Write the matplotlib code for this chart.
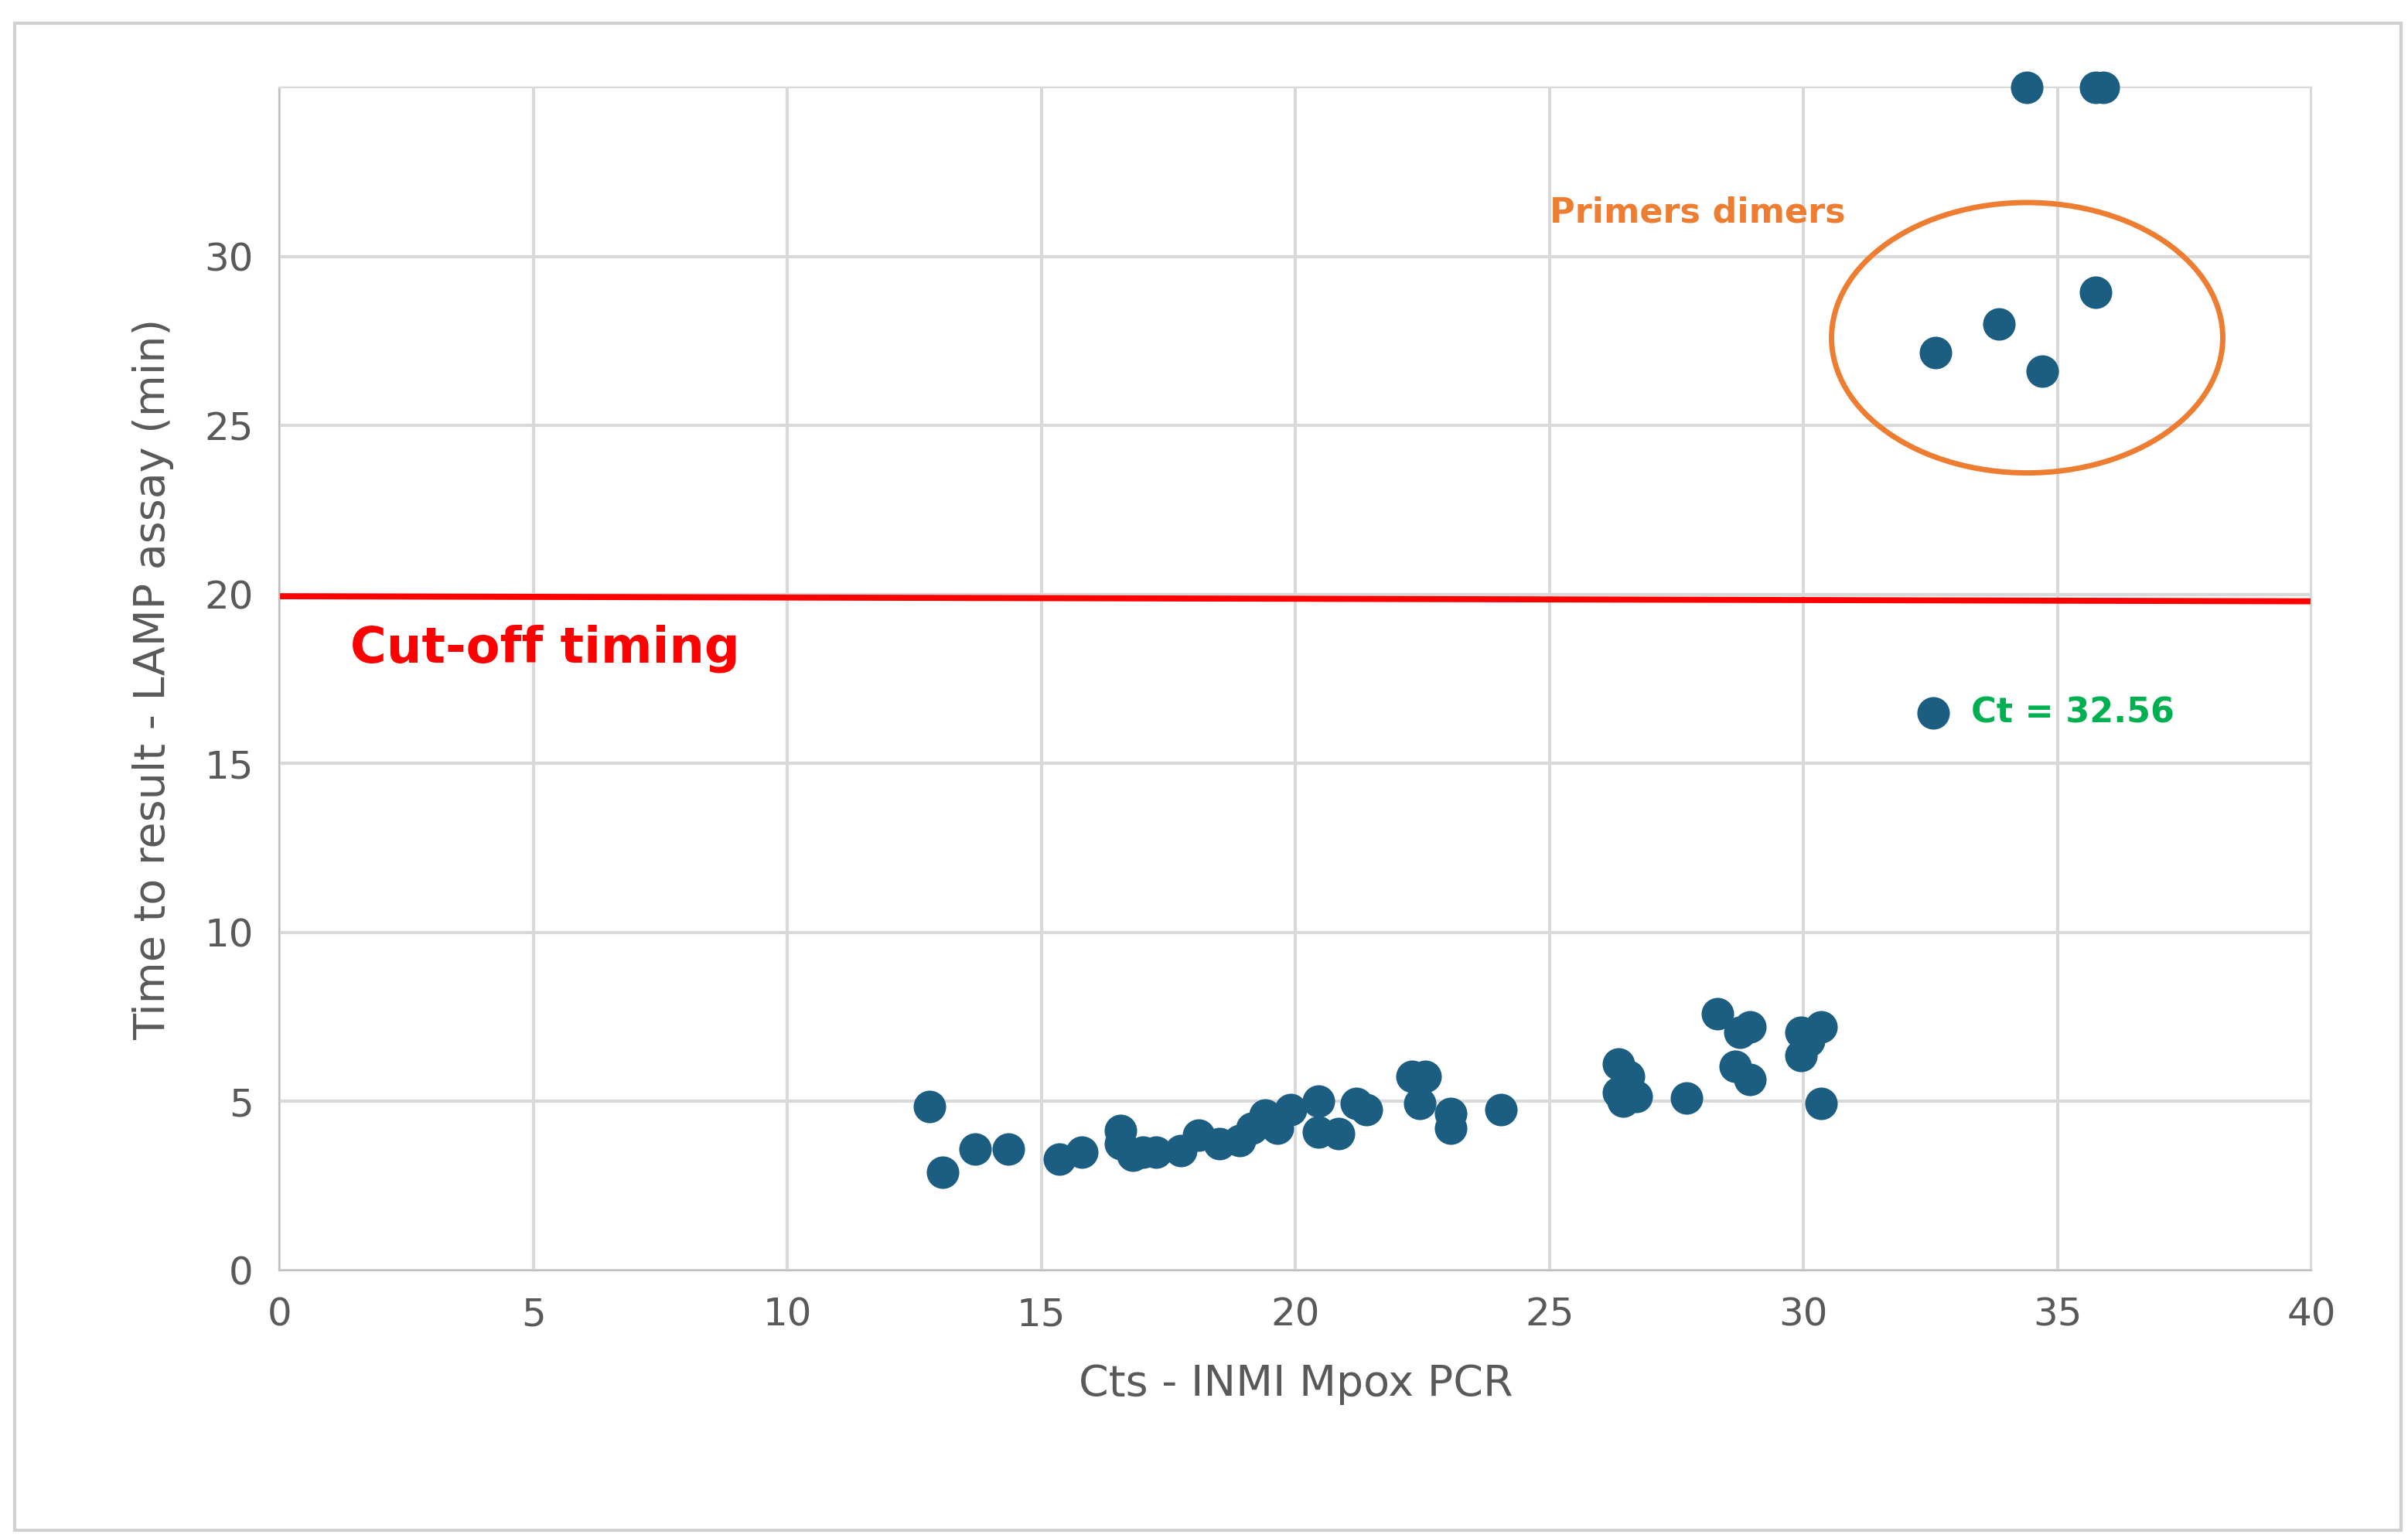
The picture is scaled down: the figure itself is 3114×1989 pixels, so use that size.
import matplotlib
matplotlib.use("Agg")
import matplotlib.pyplot as plt
from matplotlib.patches import Ellipse, Rectangle

ct = [12.8, 13.05, 13.7, 14.35, 15.35, 15.8, 16.55, 16.55, 16.8, 17.0, 17.25, 17.75, 18.1, 18.5,
      18.9, 19.15, 19.4, 19.65, 19.9, 20.45, 20.45, 20.85, 21.2, 21.4, 22.3, 22.55, 22.45, 23.05,
      23.05, 24.05, 26.35, 26.55, 26.35, 26.45, 26.7, 27.7, 28.3, 28.65, 28.75, 28.95, 28.95,
      29.95, 29.95, 30.1, 30.35, 30.35, 32.55, 32.6, 33.85, 34.7, 35.75, 34.4, 35.75, 35.9]
ttr = [4.85, 2.9, 3.6, 3.6, 3.3, 3.5, 4.15, 3.75, 3.4, 3.5, 3.5, 3.55, 4.0, 3.75,
       3.85, 4.2, 4.6, 4.2, 4.75, 5.0, 4.1, 4.05, 4.95, 4.75, 5.75, 5.75, 4.95, 4.65,
       4.2, 4.75, 6.1, 5.75, 5.25, 5.0, 5.15, 5.1, 7.6, 6.05, 7.05, 7.2, 5.65,
       7.05, 6.35, 6.8, 7.2, 4.95, 16.5, 27.15, 28.0, 26.6, 28.95, 35, 35, 35]
cutoff_x = [0, 40]
cutoff_y = [19.95, 19.8]
x_ticks = [0, 5, 10, 15, 20, 25, 30, 35, 40]
y_ticks = [0, 5, 10, 15, 20, 25, 30]

fig = plt.figure(figsize=(15.57, 9.945), dpi=200)
fig.patches.append(Rectangle((0.006, 0.005), 0.991, 0.98, transform=fig.transFigure,
                             fill=False, edgecolor="#d0d0d0", linewidth=1.5))
ax = fig.add_axes([0.116, 0.174, 0.844, 0.769])
ax.set_xlim(0, 40)
ax.set_ylim(0, 35)
ax.set_xticks(x_ticks)
ax.set_yticks(y_ticks)
ax.grid(True, color="#d9d9d9", linewidth=1.5)
ax.set_axisbelow(True)
for s in ["top", "right"]:
    ax.spines[s].set_color("#d9d9d9")
for s in ["left", "bottom"]:
    ax.spines[s].set_color("#bfbfbf")
ax.tick_params(length=0, labelsize=18, colors="#595959", pad=12)

ax.plot(cutoff_x, cutoff_y, color="#ff0000", linewidth=2.8, zorder=2)
ax.scatter(ct, ttr, s=200, color="#1b5e82", zorder=3, clip_on=False)

ax.add_patch(Ellipse((34.4, 27.6), 7.7, 8.0, fill=False, edgecolor="#ed7d31", linewidth=2.5, zorder=4))
ax.text(25.0, 31.3, "Primers dimers", color="#ed7d31", fontsize=16, fontweight="bold", va="center")
ax.text(1.4, 18.4, "Cut-off timing", color="#ff0000", fontsize=23, fontweight="bold", va="center")
ax.text(33.3, 16.5, "Ct = 32.56", color="#00b050", fontsize=16, fontweight="bold", va="center")

ax.set_xlabel("Cts - INMI Mpox PCR", fontsize=20, color="#595959", labelpad=14)
ax.set_ylabel("Time to result - LAMP assay (min)", fontsize=20, color="#595959", labelpad=14)

fig.savefig("out.png", dpi=200)
